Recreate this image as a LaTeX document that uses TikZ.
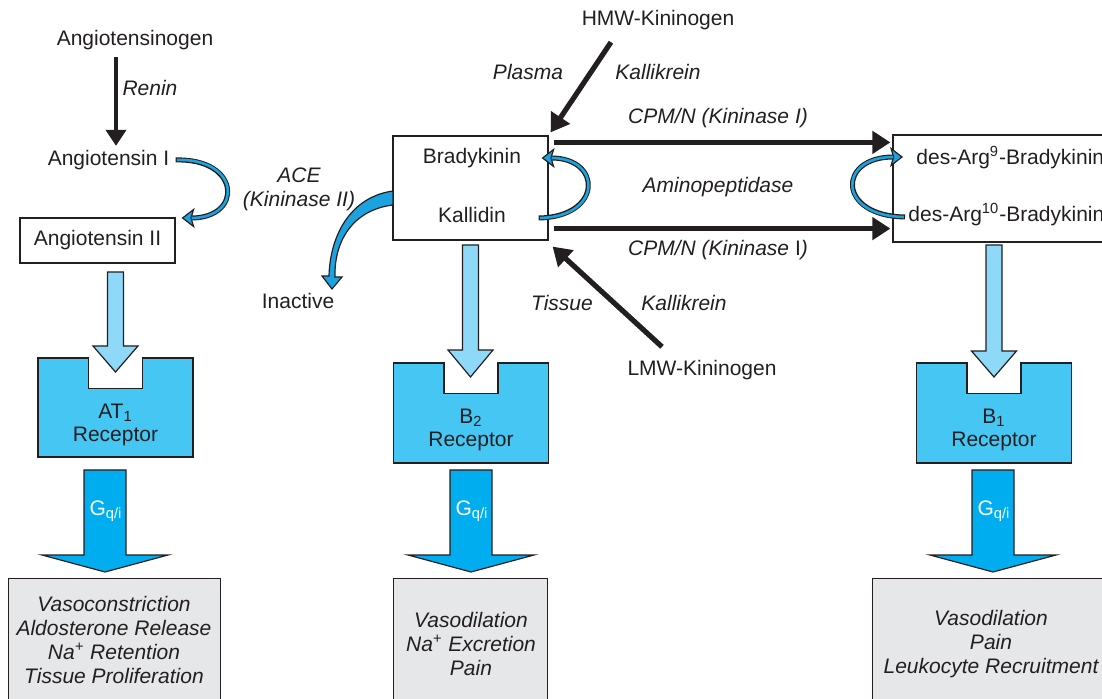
\documentclass[tikz,border=0pt]{standalone}
\usepackage{fontspec}
\setmainfont{Liberation Sans}
\usetikzlibrary{arrows.meta}

\definecolor{ink}{HTML}{231F20}
\definecolor{paleblue}{HTML}{8ED8F8}
\definecolor{recblue}{HTML}{45C6F3}
\definecolor{gqblue}{HTML}{00AEEF}
\definecolor{turnblue}{HTML}{1BA3E0}
\definecolor{outgrey}{HTML}{E6E7E8}

\tikzset{
  txt/.style={font=\fontsize{10.5}{12}\selectfont, inner sep=1pt, text=ink},
  enz/.style={txt, font=\fontsize{10.5}{12}\selectfont\itshape},
  kinarrow/.style={draw=ink, line width=2.6pt, -{Triangle[length=9pt,width=11pt]}},
  turnarrow/.style={preaction={draw=ink, line width=2.5pt, shorten >=0pt, shorten <=0pt,
      -{Stealth[length=6.5pt,width=10pt,inset=1.5pt,fill=turnblue,line width=0.6pt]}},
    draw=turnblue, line width=1.3pt, shorten >=5pt, shorten <=0.6pt},
  plainbox/.style={draw=ink, line width=0.6pt, inner sep=0pt},
  outbox/.style={plainbox, fill=outgrey},
  shapeline/.style={draw=ink, line width=0.6pt, line join=miter}
}

\begin{document}
\begin{tikzpicture}[x=0.5pt,y=-0.5pt]
\useasboundingbox (0,0) rectangle (1102,699);
\clip (0,0) rectangle (1102,699);

% angiotensin side
\node[txt] (agt) at (135,40) {Angiotensinogen};
\node[enz] (renin) at (150,88) {Renin};
\node[txt] (angI) at (108.5,160) {Angiotensin I};
\node[plainbox, txt, minimum width=77.5pt, minimum height=22.5pt] (angII) at (97.5,240.5) {Angiotensin II};
\draw[kinarrow, line width=2pt, -{Triangle[length=8pt,width=10pt]}]
  ([shift={(-19,5)}]agt.south) -- ([shift={(7.5,-2)}]angI.north);
\draw[turnarrow] ([shift={(4,0)}]angI.east) .. controls +(65,-2) and +(62,0) .. ([shift={(6,-22.5)}]angII.east);

% kinins
\node[plainbox, minimum width=77.5pt, minimum height=52pt] (kin) at (470.5,188) {};
\node[txt] (bk) at (472,158) {Bradykinin};
\node[txt] (kd) at (472,215) {Kallidin};
\node[plainbox, minimum width=117pt, minimum height=53.5pt] (des) at (1010,188.5) {};
\node[txt, anchor=west] (des9) at (914,158) {des-Arg\textsuperscript{9}-Bradykinin};
\node[txt, anchor=west] (des10) at (906,215) {des-Arg\textsuperscript{10}-Bradykinin};

\node[txt] (hmw) at (658,20) {HMW-Kininogen};
\node[enz] (plasma) at (528,72) {Plasma};
\node[enz] (pkal) at (658,72) {Kallikrein};
\node[txt] (lmw) at (702,370) {LMW-Kininogen};
\node[enz] (tissue) at (562,303) {Tissue};
\node[enz] (tkal) at (684,303) {Kallikrein};
\node[enz] (cpm1) at (718,118) {CPM/N (Kininase I)};
\node[enz] (amino) at (718,187) {Aminopeptidase};
\node[enz] (cpm2) at (718,250) {CPM/N (Kininase {\upshape I})};
\node[enz, align=center] (ace) at (299,189) {ACE\\(Kininase II)};
\node[txt] (inact) at (298,301) {Inactive};

\draw[kinarrow] ([shift={(-47,10)}]hmw.south) -- ([shift={(2,-3)}]kin.north east);
\draw[kinarrow] ([shift={(-40,-11)}]lmw.north) -- ([shift={(4,6)}]kin.south east);
\draw[kinarrow] ([shift={(5,7)}]kin.north east) -- ([shift={(-2,8)}]des.north west);
\draw[kinarrow] ([shift={(5,-12)}]kin.south east) -- ([shift={(-2,-14)}]des.south west);

\draw[turnarrow] ([shift={(-10,30)}]kin.east) .. controls +(64,-1) and +(61,0) .. ([shift={(-7,-30)}]kin.east);
\draw[turnarrow] ([shift={(-1,2)}]des10.west) .. controls +(-68,-1) and +(-66,0) .. ([shift={(-11,-1)}]des9.west);

\draw[shapeline, fill=turnblue] (393,191) .. controls (350,197) and (330,236) .. (329,276)
  -- (322,276) -- (332,289) -- (342,277) -- (335,277) .. controls (334,242) and (352,210) .. (393,205) -- cycle;

% receptors
\foreach \cx/\yt/\yb/\nm [count=\i] in {115.5/358/457/AT\textsubscript{1}, 471/363/463/B\textsubscript{2}, 994/363/463/B\textsubscript{1}}{
  \draw[shapeline, fill=recblue] (\cx-77.5,\yt) -- (\cx-27,\yt) -- (\cx-27,\yt+30.5) -- (\cx+27,\yt+30.5)
    -- (\cx+27,\yt) -- (\cx+77.5,\yt) -- (\cx+77.5,\yb) -- (\cx-77.5,\yb) -- cycle;
  \node[txt, align=center, font=\fontsize{10.5}{11.5}\selectfont] (rec\i) at (\cx,\yt+67) {\nm\\Receptor};
}
\foreach \cx/\ys/\yh/\yt in {115.5/272/346/372, 470.5/245/350/377, 994/245/351/377}
  \draw[shapeline, fill=paleblue] (\cx-8,\ys) -- (\cx+8,\ys) -- (\cx+8,\yh) -- (\cx+22.5,\yh) -- (\cx,\yt)
    -- (\cx-22.5,\yh) -- (\cx-8,\yh) -- cycle;
\foreach \cx [count=\i] in {105,471,993}{
  \draw[shapeline, fill=gqblue] (\cx-21,470) -- (\cx+21,470) -- (\cx+21,555) -- (\cx+63,555) -- (\cx,572)
    -- (\cx-63,555) -- (\cx-21,555) -- cycle;
  \node[txt, text=white] (gq\i) at (\cx+1,511) {G\textsubscript{q/i}};
}

% effects
\node[outbox, minimum width=106pt, minimum height=70pt, anchor=north west] (res1) at (8,578) {};
\node[outbox, minimum width=77pt, minimum height=70pt, anchor=north west] (res2) at (393,578) {};
\node[outbox, minimum width=120pt, minimum height=70pt, anchor=north west] (res3) at (872,578) {};
\node[enz, align=center] (eff1) at (114,639.5) {Vasoconstriction\\Aldosterone Release\\Na\textsuperscript{+} Retention\\Tissue Proliferation};
\node[enz, align=center] (eff2) at (471,644) {Vasodilation\\Na\textsuperscript{+} Excretion\\Pain};
\node[enz, align=center] (eff3) at (991,644) {Vasodilation\\Pain\\Leukocyte Recruitment};
\end{tikzpicture}
\end{document}
